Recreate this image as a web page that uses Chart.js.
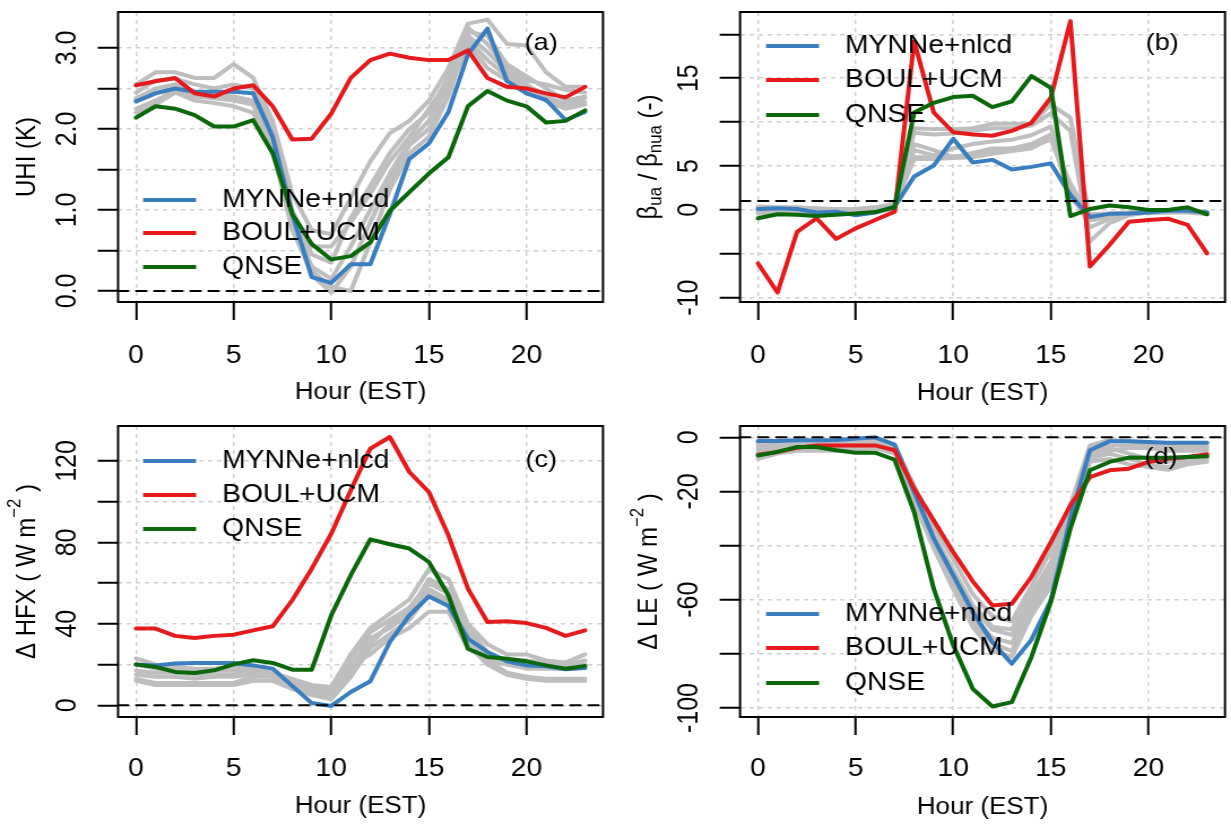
<!DOCTYPE html>
<html>
<head>
<meta charset="utf-8">
<script src="https://cdn.jsdelivr.net/npm/chart.js@4.4.0/dist/chart.umd.min.js"></script>
<style>
  html, body { margin: 0; padding: 0; background: #fff; }
  #wrap { position: relative; width: 1231px; height: 825px; overflow: hidden; }
  canvas { position: absolute; }
</style>
</head>
<body>
<div id="wrap"></div>
<script>
// hours and axis ticks
const hours = [0, 1, 2, 3, 4, 5, 6, 7, 8, 9, 10, 11, 12, 13, 14, 15, 16, 17, 18, 19, 20, 21, 22, 23];
const xTicks = [0, 5, 10, 15, 20];
const seriesNames = ["MYNNe+nlcd", "BOUL+UCM", "QNSE"];

// (a) UHI (K)
const uhiTicks = [0, 0.5, 1, 1.5, 2, 2.5, 3];
const uhiLabels = [0, 1, 2, 3];
const uhiBlue = [2.34, 2.44, 2.50, 2.46, 2.46, 2.46, 2.44, 1.90, 0.95, 0.17, 0.10, 0.33, 0.33, 0.95, 1.63, 1.82, 2.21, 2.92, 3.24, 2.59, 2.44, 2.36, 2.11, 2.21];
const uhiRed = [2.54, 2.59, 2.63, 2.44, 2.40, 2.50, 2.54, 2.28, 1.87, 1.88, 2.19, 2.63, 2.85, 2.93, 2.88, 2.85, 2.85, 2.97, 2.63, 2.52, 2.50, 2.44, 2.39, 2.52];
const uhiGreen = [2.14, 2.28, 2.25, 2.17, 2.03, 2.03, 2.11, 1.70, 0.95, 0.58, 0.39, 0.43, 0.60, 0.99, 1.22, 1.45, 1.65, 2.28, 2.47, 2.35, 2.28, 2.08, 2.10, 2.23];
const uhiGray = [
  [2.55, 2.70, 2.70, 2.63, 2.63, 2.80, 2.63, 2.10, 1.20, 0.75, 0.70, 1.15, 1.60, 1.95, 2.10, 2.35, 2.75, 3.30, 3.35, 3.05, 3.03, 2.70, 2.52, 2.52],
  [2.45, 2.60, 2.62, 2.55, 2.50, 2.55, 2.50, 2.00, 1.00, 0.45, 0.35, 0.90, 1.30, 1.70, 2.00, 2.20, 2.65, 3.25, 3.05, 2.75, 2.60, 2.55, 2.48, 2.45],
  [2.38, 2.50, 2.55, 2.45, 2.42, 2.40, 2.35, 1.85, 0.90, 0.30, 0.15, 0.55, 1.00, 1.45, 1.85, 2.10, 2.55, 3.10, 2.85, 2.65, 2.50, 2.40, 2.30, 2.38],
  [2.25, 2.35, 2.48, 2.40, 2.38, 2.35, 2.30, 1.80, 0.80, 0.20, -0.02, 0.30, 0.85, 1.35, 1.80, 2.00, 2.45, 3.05, 2.75, 2.60, 2.45, 2.35, 2.25, 2.30],
  [2.20, 2.30, 2.45, 2.35, 2.32, 2.28, 2.20, 1.75, 0.75, 0.25, 0.05, 0.00, 0.60, 1.25, 1.70, 1.90, 2.40, 3.15, 2.95, 2.70, 2.55, 2.40, 2.30, 2.33],
  [2.35, 2.45, 2.50, 2.42, 2.40, 2.38, 2.30, 1.90, 0.95, 0.55, 0.55, 0.85, 1.20, 1.60, 1.90, 2.25, 2.60, 3.20, 3.15, 2.80, 2.65, 2.50, 2.35, 2.40]
];

// (b) beta ratio
const betaTicks = [-10, -5, 0, 5, 10, 15, 20];
const betaLabels = [-10, 0, 5, 15];
const betaBlue = [0.1, 0.2, 0.1, -0.3, -0.2, -0.6, -0.3, 0.4, 3.8, 5.05, 8.1, 5.4, 5.7, 4.6, 4.9, 5.3, 1.7, -0.8, -0.45, -0.4, -0.3, -0.1, -0.1, -0.3];
const betaRed = [-6.1, -9.4, -2.5, -0.95, -3.3, -2.1, -1.15, -0.2, 19.2, 11.1, 8.85, 8.6, 8.45, 9.0, 9.9, 12.8, 21.5, -6.45, -4.0, -1.35, -1.15, -1.0, -1.7, -4.95];
const betaGreen = [-0.95, -0.5, -0.55, -0.7, -0.55, -0.4, -0.25, 0.3, 11.1, 12.2, 12.85, 13.0, 11.7, 12.35, 15.25, 13.9, -0.7, 0.1, 0.5, 0.3, 0.0, 0.0, 0.3, -0.5];
const betaGray = [
  [0.3, 0.2, 0.2, 0.1, 0.0, 0.0, 0.2, 0.8, 9.3, 9.2, 9.2, 9.3, 9.8, 9.8, 9.8, 12.0, 10.5, -1.0, -0.5, -0.3, -0.2, -0.2, -0.1, -0.3],
  [0.0, 0.1, 0.0, -0.2, -0.1, -0.2, 0.0, 0.5, 8.8, 8.6, 8.7, 9.0, 9.3, 9.3, 9.6, 11.0, 9.0, -3.6, -1.5, -0.6, -0.3, -0.2, -0.2, -0.4],
  [-0.2, -0.1, -0.2, -0.3, -0.3, -0.4, -0.2, 0.3, 6.8, 6.2, 7.0, 7.5, 7.8, 8.0, 8.5, 9.5, 2.5, -2.0, -1.0, -0.5, -0.3, -0.3, -0.3, -0.5],
  [0.4, 0.3, 0.3, 0.2, 0.1, 0.1, 0.3, 0.6, 5.8, 5.8, 5.9, 6.0, 6.4, 6.7, 7.0, 8.2, 2.0, -0.5, -0.4, -0.3, -0.2, -0.1, -0.1, -0.2],
  [0.1, 0.0, 0.0, -0.1, -0.2, -0.2, 0.0, 0.4, 6.0, 6.0, 6.1, 6.2, 6.6, 7.0, 7.5, 8.6, 1.5, -1.2, -0.8, -0.5, -0.3, -0.2, -0.2, -0.4],
  [-0.4, -0.3, -0.3, -0.4, -0.4, -0.4, -0.3, 0.2, 7.5, 6.8, 6.0, 6.5, 7.0, 7.0, 7.2, 8.0, 3.0, -0.8, -0.6, -0.4, -0.3, -0.3, -0.2, -0.3]
];

// (c) delta HFX
const hfxTicks = [0, 20, 40, 60, 80, 100, 120];
const hfxLabels = [0, 40, 80, 120];
const hfxBlue = [20.0, 19.6, 20.5, 20.8, 20.8, 20.8, 19.6, 18.0, 9.5, 1.1, -0.3, 6.5, 11.8, 31.1, 44.2, 53.5, 48.8, 32.7, 26.2, 21.6, 19.6, 19.2, 17.7, 18.3];
const hfxRed = [37.7, 37.7, 34.1, 33.1, 34.1, 34.7, 36.8, 38.8, 51.6, 67.1, 84.3, 105.6, 126.1, 131.8, 114.6, 104.8, 83.5, 57.3, 40.9, 41.3, 40.4, 38.0, 34.1, 36.8];
const hfxGreen = [20.0, 18.8, 16.4, 15.9, 17.2, 20.1, 22.1, 20.8, 17.5, 17.5, 44.2, 63.9, 81.5, 79.1, 77.0, 70.4, 54.0, 27.8, 23.7, 22.9, 21.6, 19.6, 18.0, 19.3];
const hfxGray = [
  [23, 20, 19, 18, 18, 19, 18, 16, 13, 10, 9, 25, 38, 45, 52, 67, 62, 40, 30, 25, 25, 22, 21, 25],
  [17, 16, 16, 15, 15, 15, 16, 15, 12, 8, 6, 22, 36, 42, 48, 60, 55, 35, 25, 20, 18, 18, 18, 20],
  [13, 11, 11, 11, 11, 11, 14, 14, 10, 6, 4, 18, 33, 38, 45, 57, 52, 32, 22, 16, 14, 13, 13, 13],
  [12, 10, 10, 10, 10, 10, 12, 12, 8, 5, 3, 14, 28, 35, 42, 55, 50, 30, 20, 15, 13, 12, 12, 12],
  [20, 18, 18, 17, 17, 17, 17, 15, 12, 9, 8, 20, 25, 33, 38, 46, 46, 28, 22, 20, 20, 19, 19, 20],
  [15, 14, 14, 13, 14, 14, 15, 14, 11, 7, 5, 16, 30, 40, 46, 62, 57, 38, 26, 22, 22, 21, 20, 22]
];

// (d) delta LE
const leTicks = [-100, -80, -60, -40, -20, 0];
const leLabels = [-100, -60, -20, 0];
const leBlue = [-1.4, -1.4, -1.1, -1.1, -1.0, -0.5, 0.0, -2.7, -20.2, -37.4, -51.0, -64.5, -75.6, -83.6, -74.8, -60.2, -30.0, -4.8, -1.5, -1.5, -1.7, -2.0, -2.0, -2.0];
const leRed = [-6.4, -5.4, -3.9, -3.0, -3.0, -3.0, -3.0, -4.8, -19.0, -30.7, -42.4, -53.2, -62.1, -61.5, -51.6, -38.7, -25.1, -14.7, -12.2, -11.6, -9.1, -7.9, -7.3, -6.3];
const leGreen = [-6.7, -5.4, -3.6, -3.6, -4.8, -5.7, -5.7, -8.3, -27.6, -55.9, -76.8, -92.9, -99.4, -97.8, -81.2, -60.8, -33.7, -12.2, -9.1, -7.5, -7.6, -7.6, -7.3, -7.0];
const leGray = [
  [-2, -2, -2, -2, -2, -2, -1, -3, -18, -33, -45, -58, -66, -68, -55, -42, -25, -3, -1, -1.5, -2, -2.5, -3, -3],
  [-4, -3, -3, -3, -3, -3, -2, -4, -20, -36, -49, -62, -70, -71, -58, -46, -28, -5, -3, -3, -3, -3.5, -4, -4],
  [-6, -5, -4, -4, -4, -4, -3, -5, -22, -38, -52, -66, -74, -76, -62, -50, -30, -7, -5, -4, -4, -5, -5, -5],
  [-8, -6, -5, -5, -5, -5, -4, -6, -24, -41, -56, -70, -79, -81, -66, -55, -33, -9, -8, -10, -11, -12, -10, -9],
  [-3, -3, -3, -3, -3, -3, -2, -4, -21, -37, -50, -63, -71, -73, -60, -48, -29, -6, -4, -6, -8, -9, -8, -8],
  [-5, -4, -4, -4, -4, -4, -3, -5, -23, -40, -54, -68, -76, -79, -64, -53, -32, -8, -6, -8, -10, -11, -9, -7]
];

const FONT = '"Liberation Sans", Arial, Helvetica, sans-serif';
const SX = 1.13;           // the figure is slightly stretched sideways
const X_MIN = -0.92, X_MAX = 23.92;
const seriesColors = ["#3a7ec0", "#e41a1c", "#0a680a"];
const grayColor = "#bebebe";

const panels = [
  { left: 0, top: 0, w: 615, h: 412, box: { l: 118, t: 12, r: 603, b: 302 },
    yMin: -0.136, yMax: 3.444, yTicks: uhiTicks, yLabels: uhiLabels, fmt: v => v.toFixed(1), ref: 0,
    series: [uhiBlue, uhiRed, uhiGreen], gray: uhiGray,
    title: [{ t: "UHI (K)" }], legend: { x: 143, ys: [200, 233, 267] }, tag: { t: "(a)", x: 541, y: 43 },
    tickY: 356, titleY: 393 },
  { left: 615, top: 0, w: 616, h: 412, box: { l: 125, t: 12, r: 610, b: 302 },
    yMin: -10.49, yMax: 22.54, yTicks: betaTicks, yLabels: betaLabels, fmt: v => String(v), ref: 1,
    series: [betaBlue, betaRed, betaGreen], gray: betaGray,
    title: [{ t: "\u03b2" }, { t: "ua", s: "sub" }, { t: " / \u03b2" }, { t: "nua", s: "sub" }, { t: " (-)" }],
    legend: { x: 151, ys: [46, 80, 115] }, tag: { t: "(b)", x: 547, y: 43 },
    tickY: 356, titleY: 394 },
  { left: 0, top: 412, w: 615, h: 413, box: { l: 118, t: 14, r: 603, b: 305 },
    yMin: -5.75, yMax: 137.2, yTicks: hfxTicks, yLabels: hfxLabels, fmt: v => String(v), ref: 0,
    series: [hfxBlue, hfxRed, hfxGreen], gray: hfxGray,
    title: [{ t: "\u0394 HFX ( W m" }, { t: "\u22122", s: "sup" }, { t: " )" }],
    legend: { x: 143, ys: [49, 83, 117] }, tag: { t: "(c)", x: 541, y: 48 },
    tickY: 357.5, titleY: 395 },
  { left: 615, top: 412, w: 616, h: 413, box: { l: 125, t: 14, r: 610, b: 305 },
    yMin: -103.3, yMax: 4.17, yTicks: leTicks, yLabels: leLabels, fmt: v => String(v), ref: 0,
    series: [leBlue, leRed, leGreen], gray: leGray,
    title: [{ t: "\u0394 LE ( W m" }, { t: "\u22122", s: "sup" }, { t: " )" }],
    legend: { x: 151, ys: [202, 236, 271] }, tag: { t: "(d)", x: 546, y: 45 },
    tickY: 357.5, titleY: 396 }
];

function toPoints(vals) {
  return vals.map((v, i) => ({ x: hours[i], y: v }));
}

// text with sub/superscripts, centred on the origin
function drawRich(ctx, parts, size) {
  let total = 0;
  parts.forEach(p => {
    ctx.font = (p.s ? size * 0.7 : size) + "px " + FONT;
    p.w = ctx.measureText(p.t).width;
    total += p.w;
  });
  let x = -total / 2;
  parts.forEach(p => {
    ctx.font = (p.s ? size * 0.7 : size) + "px " + FONT;
    let dy = 0;
    if (p.s === "sub") dy = size * 0.28;
    if (p.s === "sup") dy = -size * 0.42;
    ctx.fillText(p.t, x, dy);
    x += p.w;
  });
}

function decor(p) {
  return {
    id: "decor",
    afterDraw(chart) {
      const ctx = chart.ctx;
      const ca = chart.chartArea;
      const ys = chart.scales.y;
      ctx.save();
      // box
      ctx.strokeStyle = "#000";
      ctx.lineWidth = 2;
      ctx.strokeRect(ca.left, ca.top, ca.right - ca.left, ca.bottom - ca.top);

      ctx.fillStyle = "#000";
      ctx.textBaseline = "middle";
      // y tick labels, turned like R does
      ctx.textAlign = "center";
      ctx.font = "25px " + FONT;
      p.yLabels.forEach(v => {
        ctx.save();
        ctx.translate((p.box.l - 50) / SX, ys.getPixelForValue(v));
        ctx.rotate(-Math.PI / 2);
        ctx.fillText(p.fmt(v), 0, 0);
        ctx.restore();
      });
      // y title
      ctx.save();
      ctx.translate((p.box.l - 91) / SX, (p.box.t + p.box.b) / 2);
      ctx.rotate(-Math.PI / 2);
      ctx.textAlign = "left";
      drawRich(ctx, p.title, 24);
      ctx.restore();

      // legend
      ctx.textAlign = "left";
      ctx.font = "25px " + FONT;
      seriesNames.forEach((name, i) => {
        const y = p.legend.ys[i];
        ctx.strokeStyle = seriesColors[i];
        ctx.lineWidth = 4;
        ctx.beginPath();
        ctx.moveTo(p.legend.x / SX, y);
        ctx.lineTo((p.legend.x + 53) / SX, y);
        ctx.stroke();
        ctx.fillText(name, (p.legend.x + 79) / SX, y);
      });

      // panel tag
      ctx.textAlign = "center";
      ctx.font = "24px " + FONT;
      ctx.fillText(p.tag.t, p.tag.x / SX, p.tag.y);
      ctx.restore();
    }
  };
}

const wrap = document.getElementById("wrap");

panels.forEach(p => {
  const canvas = document.createElement("canvas");
  canvas.width = Math.round(p.w / SX);
  canvas.height = p.h;
  canvas.style.left = p.left + "px";
  canvas.style.top = p.top + "px";
  canvas.style.width = p.w + "px";
  canvas.style.height = p.h + "px";
  wrap.appendChild(canvas);

  // first dataset is drawn on top
  const datasets = [{
    data: [{ x: X_MIN, y: p.ref }, { x: X_MAX, y: p.ref }],
    borderColor: "#000", borderWidth: 2, borderDash: [9, 7]
  }];
  for (let i = p.series.length - 1; i >= 0; i--) {
    datasets.push({ label: seriesNames[i], data: toPoints(p.series[i]), borderColor: seriesColors[i], borderWidth: 4 });
  }
  p.gray.forEach(g => {
    datasets.push({ data: toPoints(g), borderColor: grayColor, borderWidth: 4 });
  });

  const grid = { color: "#d0d0d0", lineWidth: 1.5, tickLength: 18, tickColor: "#000", tickWidth: 2, tickBorderDash: [] };

  new Chart(canvas, {
    type: "line",
    data: { datasets: datasets },
    options: {
      responsive: false,
      animation: false,
      devicePixelRatio: 1,
      layout: { padding: { left: 0, right: (p.w - p.box.r) / SX, top: p.box.t, bottom: 0 } },
      elements: {
        point: { radius: 0 },
        line: { tension: 0, borderCapStyle: "round", borderJoinStyle: "round" }
      },
      plugins: { legend: { display: false }, tooltip: { enabled: false } },
      scales: {
        x: {
          type: "linear", min: X_MIN, max: X_MAX,
          afterBuildTicks: s => { s.ticks = xTicks.map(v => ({ value: v })); },
          afterFit: s => { s.height = p.h - p.box.b; },
          grid: grid,
          border: { display: false, dash: [4, 4] },
          ticks: {
            autoSkip: false, maxRotation: 0, color: "#000",
            font: { family: FONT, size: 25 },
            padding: p.tickY - p.box.b - 18 - 15,
            callback: v => String(v)
          },
          title: {
            display: true, text: "Hour (EST)", color: "#000",
            font: { family: FONT, size: 23 },
            padding: { top: 0, bottom: p.h - 13.8 - p.titleY }
          }
        },
        y: {
          type: "linear", min: p.yMin, max: p.yMax,
          afterBuildTicks: s => { s.ticks = p.yTicks.map(v => ({ value: v })); },
          afterFit: s => { s.width = p.box.l / SX; },
          grid: grid,
          border: { display: false, dash: [4, 4] },
          ticks: { display: false }
        }
      }
    },
    plugins: [decor(p)]
  });
});
</script>
</body>
</html>
